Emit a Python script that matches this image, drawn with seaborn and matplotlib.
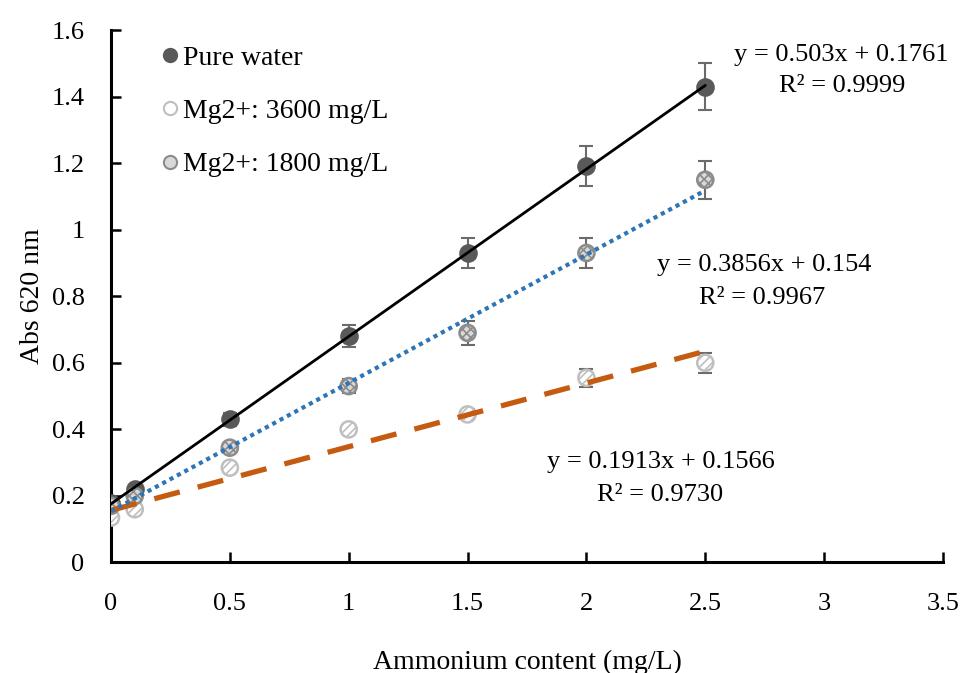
import matplotlib
matplotlib.use("Agg")
import matplotlib.pyplot as plt
from matplotlib.lines import Line2D
import numpy as np
import pandas as pd
import seaborn as sns

# ---- data ----
x_vals = [0, 0.1, 0.5, 1, 1.5, 2, 2.5]
pure_water = [0.18, 0.22, 0.43, 0.68, 0.93, 1.19, 1.43]
pure_err = [0.01, 0.01, 0.02, 0.033, 0.045, 0.06, 0.07]
mg1800 = [0.17, 0.20, 0.345, 0.53, 0.69, 0.93, 1.15]
mg1800_err = [0.008, 0.008, 0.01, 0.02, 0.035, 0.045, 0.057]
mg3600 = [0.135, 0.16, 0.285, 0.40, 0.445, 0.555, 0.60]
mg3600_err = [0.005, 0.005, 0.006, 0.012, 0.015, 0.027, 0.03]

series_names = ["Pure water", "Mg2+: 3600 mg/L", "Mg2+: 1800 mg/L"]
slopes = [0.503, 0.1913, 0.3856]
intercepts = [0.1761, 0.1566, 0.154]
eq_texts = [("y = 0.503x + 0.1761", "R² = 0.9999"),
            ("y = 0.1913x + 0.1566", "R² = 0.9730"),
            ("y = 0.3856x + 0.154", "R² = 0.9967")]
fit_range = [0, 2.5]
x_ticks = [0, 0.5, 1, 1.5, 2, 2.5, 3, 3.5]
y_ticks = [0, 0.2, 0.4, 0.6, 0.8, 1.0, 1.2, 1.4, 1.6]
y_ticklabels = ["0", "0.2", "0.4", "0.6", "0.8", "1", "1.2", "1.4", "1.6"]

sns.set_theme(style="white")
plt.rcParams['font.family'] = ['Liberation Serif', 'DejaVu Serif']
plt.rcParams['hatch.linewidth'] = 1.2
plt.rcParams['text.color'] = 'black'
FS = 19
FS_TXT = 20

fig = plt.figure(figsize=(9.6, 6.73), dpi=100)
ax = fig.add_axes([0.1156, 0.1642, 0.9823 - 0.1156, 0.9554 - 0.1642])

df = pd.DataFrame({
    "x": x_vals * 3,
    "y": pure_water + mg3600 + mg1800,
    "err": pure_err + mg3600_err + mg1800_err,
    "series": [series_names[0]] * len(x_vals) + [series_names[1]] * len(x_vals) + [series_names[2]] * len(x_vals),
})

styles = {
    series_names[0]: dict(face="#595959", edge="#595959", hatch=None),
    series_names[1]: dict(face="white", edge="#bfbfbf", hatch="////"),
    series_names[2]: dict(face="#d9d9d9", edge="#8c8c8c", hatch="xxxx"),
}

# error bars
for name in series_names:
    d = df[df.series == name]
    ax.errorbar(d.x, d.y, yerr=d.err, fmt="none", ecolor="#6b6b6b",
                elinewidth=1.5, capsize=5, capthick=1.5, zorder=2)

# markers
for name in series_names:
    d = df[df.series == name]
    st = styles[name]
    sns.scatterplot(data=d, x="x", y="y", ax=ax, s=135, marker="o",
                    color=st["face"], edgecolor=st["edge"], linewidth=1.8,
                    hatch=st["hatch"], zorder=3, legend=False)

# trendlines
line_styles = [dict(color="black", lw=2.0, ls="-"),
               dict(color="#C55A11", lw=3.8, ls=(0, (5, 3.5))),
               dict(color="#2E75B6", lw=3.0, ls=(0, (1, 1)))]
for sl, ic, stl in zip(slopes, intercepts, line_styles):
    xs = np.array(fit_range)
    sns.lineplot(x=xs, y=sl * xs + ic, ax=ax, color=stl["color"], lw=stl["lw"],
                 linestyle=stl["ls"], zorder=4, legend=False)

# equation labels
eq_pos = [((3.07, 1.525), (3.076, 1.432)),
          ((2.315, 0.303), (2.31, 0.203)),
          ((2.748, 0.894), (2.74, 0.795))]
for (l1, l2), (p1, p2) in zip(eq_texts, eq_pos):
    ax.text(p1[0], p1[1], l1, ha="center", va="center", fontsize=FS, color="black")
    ax.text(p2[0], p2[1], l2, ha="center", va="center", fontsize=FS, color="black")

ax.set_xlim(0, 3.5)
ax.set_ylim(0, 1.6)
ax.set_xticks(x_ticks)
ax.set_xticklabels([f"{t:g}" for t in x_ticks])
ax.set_yticks(y_ticks)
ax.set_yticklabels(y_ticklabels)
ax.tick_params(axis="both", direction="in", length=7, width=1.8, labelsize=FS,
               colors="black", bottom=True, left=True)
ax.tick_params(axis="x", pad=22)
ax.tick_params(axis="y", pad=19)
for s in ["top", "right"]:
    ax.spines[s].set_visible(False)
for s in ["left", "bottom"]:
    ax.spines[s].set_color("black")
    ax.spines[s].set_linewidth(2.2)
ax.grid(False)

ax.set_xlabel("Ammonium content (mg/L)", fontsize=FS_TXT, labelpad=25, color="black")
ax.set_ylabel("Abs 620 nm", fontsize=FS_TXT, labelpad=5, color="black")

handles = []
for name in [series_names[0], series_names[1], series_names[2]]:
    st = styles[name]
    handles.append(Line2D([0], [0], marker="o", linestyle="none", markersize=9.5,
                          markerfacecolor=st["face"], markeredgecolor=st["edge"],
                          markeredgewidth=1.5))
leg = ax.legend(handles, series_names, loc="upper left", bbox_to_anchor=(0.058, 0.971),
                frameon=False, fontsize=FS_TXT, handletextpad=0.05, labelspacing=1.0,
                handlelength=0.8, borderaxespad=0, borderpad=0, labelcolor="black")

fig.savefig("out.png", dpi=100)
